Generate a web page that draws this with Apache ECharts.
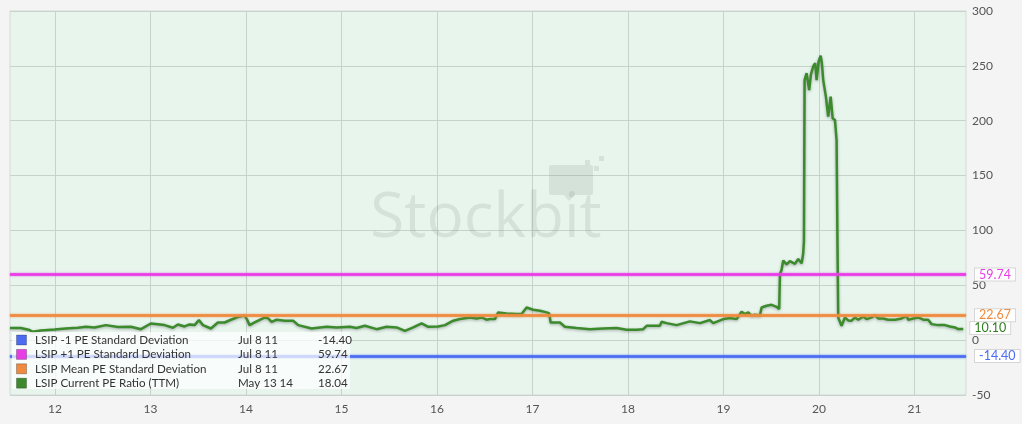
<!DOCTYPE html>
<html><head><meta charset="utf-8">
<script src="https://cdn.jsdelivr.net/npm/echarts@6/dist/echarts.min.js"></script>
<style>html,body{margin:0;padding:0;background:#f4f4f4}#c{width:1022px;height:424px}</style>
</head><body><div id="c"></div>
<script>
// ---- data ----
const yearTicks = [12, 13, 14, 15, 16, 17, 18, 19, 20, 21];
const peYears = [11.53, 11.644, 11.735, 11.77, 11.853, 11.997, 12.115, 12.241, 12.325, 12.416, 12.534, 12.66, 12.796, 12.901, 13.005, 13.149, 13.236, 13.288, 13.358, 13.41, 13.463, 13.508, 13.55, 13.634, 13.707, 13.777, 13.843, 13.934, 13.986, 14.01, 14.039, 14.091, 14.199, 14.234, 14.269, 14.321, 14.408, 14.495, 14.548, 14.688, 14.845, 14.95, 15.089, 15.159, 15.246, 15.369, 15.473, 15.578, 15.665, 15.752, 15.84, 15.909, 16.014, 16.084, 16.171, 16.241, 16.346, 16.416, 16.468, 16.52, 16.555, 16.607, 16.642, 16.73, 16.835, 16.887, 16.939, 17.008, 17.079, 17.149, 17.176, 17.191, 17.288, 17.34, 17.463, 17.602, 17.741, 17.882, 17.986, 18.091, 18.16, 18.196, 18.335, 18.353, 18.405, 18.51, 18.649, 18.754, 18.859, 18.893, 18.998, 19.068, 19.138, 19.19, 19.225, 19.26, 19.295, 19.33, 19.382, 19.4, 19.452, 19.505, 19.557, 19.584, 19.592, 19.609, 19.626, 19.662, 19.696, 19.749, 19.783, 19.819, 19.835, 19.843, 19.85, 19.871, 19.898, 19.916, 19.94, 19.961, 19.976, 19.997, 20.018, 20.031, 20.045, 20.073, 20.097, 20.123, 20.144, 20.168, 20.185, 20.194, 20.202, 20.237, 20.272, 20.307, 20.342, 20.377, 20.412, 20.464, 20.499, 20.552, 20.586, 20.621, 20.673, 20.726, 20.796, 20.866, 20.918, 20.935, 20.987, 21.04, 21.092, 21.144, 21.18, 21.249, 21.319, 21.372, 21.424, 21.459, 21.511];
const peValues = [11.0, 11.0, 9.2, 7.6, 8.8, 9.7, 10.6, 11.3, 12.2, 11.5, 13.7, 11.9, 12.2, 10.0, 15.2, 13.7, 11.3, 14.3, 12.5, 14.3, 13.7, 18.3, 13.7, 10.6, 16.1, 16.1, 18.6, 21.6, 22.4, 19.2, 13.7, 16.1, 20.7, 19.8, 16.7, 18.6, 17.7, 17.7, 13.7, 10.6, 12.2, 11.6, 12.2, 11.0, 13.1, 10.0, 12.2, 11.6, 8.5, 11.6, 15.2, 12.2, 12.5, 13.7, 17.7, 19.2, 20.7, 19.8, 20.7, 18.6, 19.2, 19.2, 25.3, 24.4, 23.8, 23.8, 29.8, 27.7, 26.8, 25.3, 24.4, 16.1, 16.1, 12.2, 11.0, 10.0, 10.7, 11.0, 9.5, 9.5, 10.0, 13.1, 13.1, 16.7, 15.5, 13.7, 17.1, 15.5, 18.3, 15.5, 19.2, 20.1, 19.2, 25.9, 23.8, 25.3, 22.4, 23.2, 22.4, 29.8, 31.3, 32.2, 30.4, 28.3, 60.4, 64.0, 72.6, 69.0, 72.0, 69.5, 74.0, 70.0, 78.7, 90.0, 237.0, 243.4, 228.0, 242.0, 249.4, 252.4, 237.0, 254.0, 259.2, 252.4, 237.0, 222.0, 203.7, 222.0, 202.2, 200.6, 182.0, 90.0, 20.7, 13.1, 20.7, 18.0, 17.7, 20.7, 18.6, 21.6, 19.2, 20.7, 22.9, 19.8, 19.8, 18.6, 18.6, 19.8, 22.2, 18.6, 19.8, 20.7, 18.6, 18.6, 14.6, 13.7, 13.7, 12.5, 11.6, 10.1, 10.1];
const levelNames = ['LSIP -1 PE Standard Deviation', 'LSIP +1 PE Standard Deviation', 'LSIP Mean PE Standard Deviation', 'LSIP Current PE Ratio (TTM)'];
const levelDates = ['Jul 8 11', 'Jul 8 11', 'Jul 8 11', 'May 13 14'];
const levelValues = [-14.40, 59.74, 22.67, 18.04];

// ---- styles ----
const FONT = 'Lato, "Noto Sans", sans-serif';
const colors = ['#4b6cf2', '#e83ce6', '#ef8a3e', '#3b8a2b'];
const chart = echarts.init(document.getElementById('c'));
const peData = peYears.map((x, i) => [x, peValues[i]]);

const tag = (color) => ({
  show: true, position: 'end', distance: 9, color: color, fontSize: 12.5, fontFamily: FONT,
  backgroundColor: '#fff', borderColor: '#d6d6d6', borderWidth: 1, padding: [0, 4, 0, 4], lineHeight: 12
});

const series = [];
for (let i = 0; i < 3; i++) {
  series.push({
    type: 'line', data: [], silent: true, z: 3,
    markLine: {
      symbol: 'none', silent: true, animation: false,
      lineStyle: { color: colors[i], width: 2.5, type: 'solid', shadowColor: colors[i], shadowBlur: 2 },
      label: Object.assign(tag(colors[i]), { formatter: levelValues[i].toFixed(2) }),
      emphasis: { disabled: true },
      data: [{ yAxis: levelValues[i] }]
    }
  });
}
series.push({
  type: 'line', data: peData, showSymbol: false, symbol: 'none', z: 4,
  lineStyle: { color: colors[3], width: 2.5, shadowColor: 'rgba(0,0,0,0.3)', shadowBlur: 3, shadowOffsetY: 1 },
  endLabel: Object.assign(tag('#2e7d1e'), { distance: 7, offset: [0, -1], formatter: p => p.value[1].toFixed(2) }),
  animation: false
});

const wm = 'rgba(90,100,95,0.13)';
const graphics = [
  { type: 'text', z: 1, x: 486, y: 219, style: { text: 'Stockbit', fontSize: 62, fontFamily: '"Open Sans", sans-serif', fill: wm, textAlign: 'center', textVerticalAlign: 'middle' } },
  { type: 'rect', z: 1, shape: { x: 549, y: 165, width: 44, height: 30, r: 2 }, style: { fill: wm } },
  { type: 'polygon', z: 1, shape: { points: [[564, 195], [574, 195], [569, 201]] }, style: { fill: wm } },
  { type: 'rect', z: 1, shape: { x: 585, y: 160, width: 5, height: 5 }, style: { fill: wm } },
  { type: 'rect', z: 1, shape: { x: 594, y: 166, width: 5, height: 5 }, style: { fill: wm } },
  { type: 'rect', z: 1, shape: { x: 599, y: 156, width: 5, height: 5 }, style: { fill: wm } },
  { type: 'rect', z: 10, shape: { x: 12, y: 332, width: 338, height: 57 }, style: { fill: 'rgba(255,255,255,0.72)' } }
];
for (let i = 0; i < 4; i++) {
  const y = 340 + i * 14.4;
  graphics.push({ type: 'rect', z: 11, shape: { x: 16.5, y: y - 5, width: 10, height: 10 }, style: { fill: colors[i], stroke: 'rgba(0,0,0,0.25)', lineWidth: 1 } });
  const t = { fontSize: 11.6, fontFamily: FONT, fill: '#333', textVerticalAlign: 'middle' };
  graphics.push({ type: 'text', z: 11, x: 35, y: y, style: Object.assign({ text: levelNames[i] }, t) });
  graphics.push({ type: 'text', z: 11, x: 238, y: y, style: Object.assign({ text: levelDates[i] }, t) });
  graphics.push({ type: 'text', z: 11, x: 318, y: y, style: Object.assign({ text: levelValues[i].toFixed(2) }, t) });
}

chart.setOption({
  animation: false,
  backgroundColor: '#f4f4f4',
  grid: { left: 10, right: 56, top: 11, bottom: 29, show: true, backgroundColor: '#e7f5ed', borderColor: '#d3dbd6', borderWidth: 1 },
  xAxis: {
    type: 'value', min: 11.53, max: 21.54,
    axisLine: { show: false },
    axisTick: { show: false, customValues: yearTicks },
    axisLabel: { customValues: yearTicks, color: '#555', fontSize: 12, fontFamily: FONT, margin: 8, formatter: v => String(v) },
    splitLine: { show: true, lineStyle: { color: '#c8d2cc', width: 1 } }
  },
  yAxis: {
    type: 'value', position: 'right', min: -50, max: 300, interval: 50,
    axisLine: { show: false }, axisTick: { show: false },
    axisLabel: { color: '#555', fontSize: 12, fontFamily: FONT, margin: 6 },
    splitLine: { show: true, lineStyle: { color: '#c8d2cc', width: 1 } }
  },
  graphic: graphics,
  series: series
});
</script></body></html>
